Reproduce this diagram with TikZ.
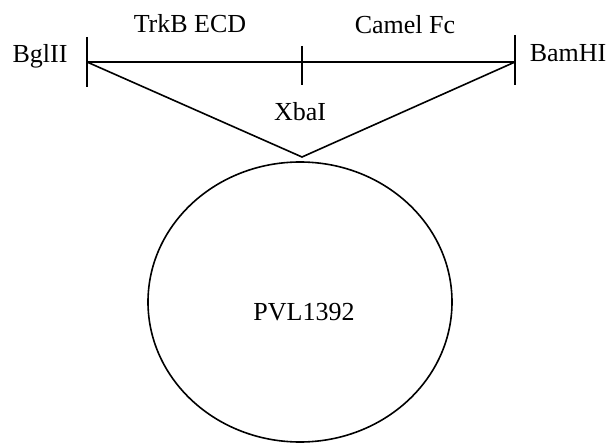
\documentclass[tikz,border=0pt]{standalone}
\usepackage{fontspec}
\setmainfont{Liberation Serif}
\usetikzlibrary{shapes.geometric, positioning}

\begin{document}
\begin{tikzpicture}[
  x=1pt, y=-1pt,
  line width=1.6pt,
  site/.style = {
    font=\fontsize{26}{30}\selectfont, inner sep=0pt, anchor=base
  },
  tick/.style = {
    line width=1.4pt
  },
  vector/.style = {
    ellipse, draw, line width=1.6pt,
    minimum width=304pt, minimum height=280pt
  }
]
\useasboundingbox (0,0) rectangle (611,446);

% ====== INSERT (top row) ======
\coordinate (bgl) at (87,62);
\coordinate (xba) at (302,62);
\coordinate (bam) at (515,62);
\coordinate (apex) at (302,157);

\coordinate (bgltop) at (87,37);
\coordinate (bglbot) at (87,87);
\coordinate (xbatop) at (302,46);
\coordinate (xbabot) at (302,85);
\coordinate (bamtop) at (515,35);
\coordinate (bambot) at (515,85);

% ====== LABELS ======
\node[site] (bgllabel) at (40,63) {BglII};
\node[site] (trkb) at (190,33) {TrkB ECD};
\node[site] (camel) at (405,34) {Camel Fc};
\node[site, anchor=base west] (bamlabel) at (529,62) {BamHI};
\node[site] (xbalabel) at (300,121) {XbaI};

% ====== VECTOR ======
\node[vector] (pvl) at (300,302) {};
\node[site] (pvllabel) at (304,321) {PVL1392};

% ====== LINES ======
\draw (bgl) -- (xba) -- (bam);
\draw[tick] (bgltop) -- (bglbot);
\draw[tick] (xbatop) -- (xbabot);
\draw[tick] (bamtop) -- (bambot);

% insert -> vector
\draw (bgl) -- (apex) -- (bam);

\end{tikzpicture}
\end{document}
